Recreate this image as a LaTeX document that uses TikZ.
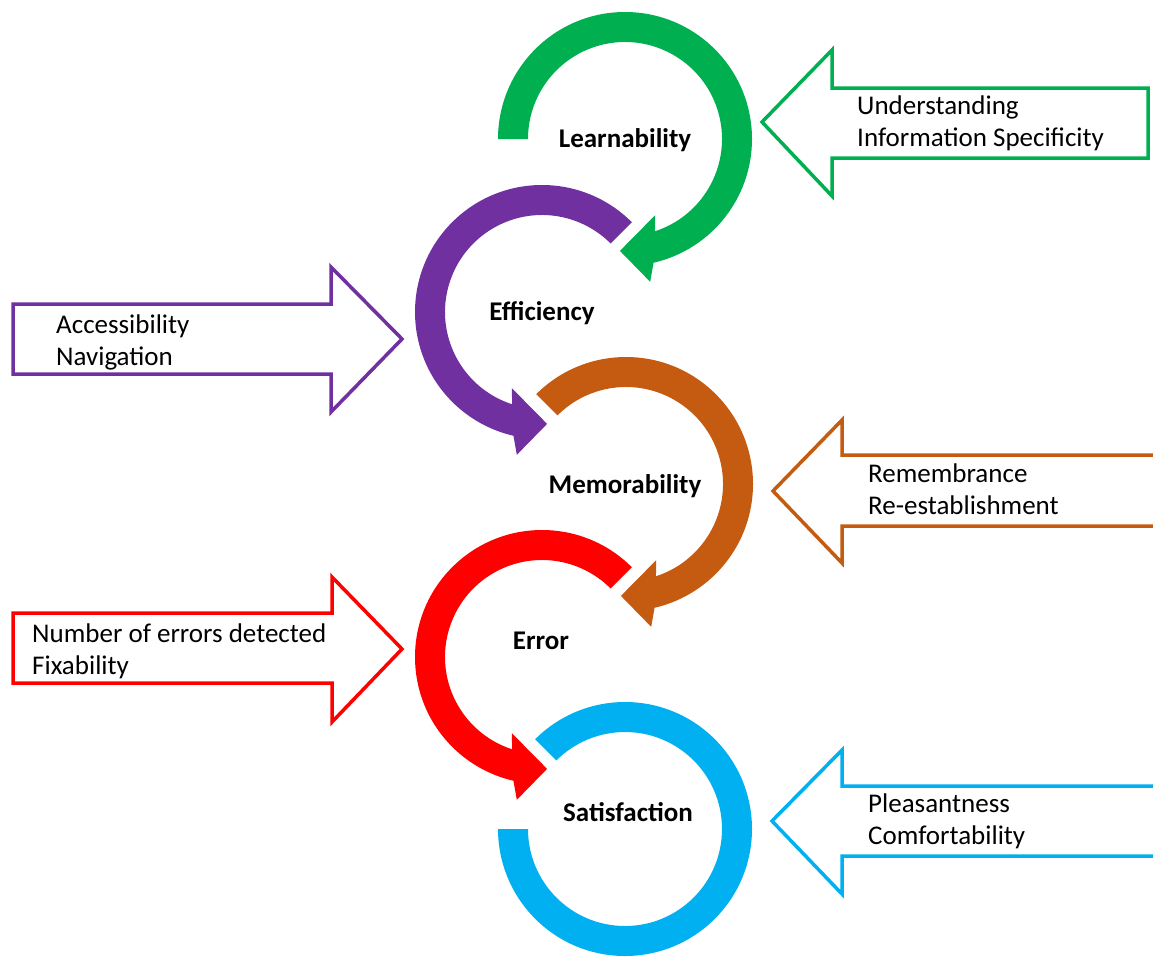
\documentclass[tikz,border=0pt]{standalone}
\usepackage{fontspec}
\setmainfont{Carlito}
\definecolor{cgreen}{HTML}{00B050}
\definecolor{cpurple}{HTML}{7030A0}
\definecolor{corange}{HTML}{C55A11}
\definecolor{cred}{HTML}{FF0000}
\definecolor{cblue}{HTML}{00B0F0}
\tikzset{
  lbl/.style={font=\bfseries\fontsize{27}{33}\selectfont, inner sep=0pt, anchor=base},
  btxt/.style={font=\fontsize{27}{32}\selectfont, inner sep=0pt, anchor=base west},
  blockarrow/.style={line width=3.5pt, fill=white, line join=miter},
}
\newcommand{\cwarrow}[2]{% start angle, colour ; clockwise ring arrow
  \fill[#2] (#1:127) arc[start angle=#1, end angle=-77, radius=127]
    -- (-80:145) -- (-92.6:112) -- (-68.5:82) -- (-72:97)
    arc[start angle=-72, end angle=#1, radius=97] -- cycle;}
\newcommand{\ccwarrow}[2]{% start angle, colour ; counter-clockwise ring arrow
  \fill[#2] (#1:127) arc[start angle=#1, end angle=257, radius=127]
    -- (260:145) -- (272.6:112) -- (248.5:82) -- (252:97)
    arc[start angle=252, end angle=#1, radius=97] -- cycle;}
\begin{document}
\begin{tikzpicture}[x=1pt,y=1pt]
\useasboundingbox (0,0) rectangle (1153,-956);
\fill[white] (0,0) rectangle (1153,-956);

% ring arrows
\begin{scope}[shift={(625,-139)}]\cwarrow{180}{cgreen}\end{scope}
\begin{scope}[shift={(542,-312)}]\ccwarrow{45}{cpurple}\end{scope}
\begin{scope}[shift={(626,-484)}]\cwarrow{135}{corange}\end{scope}
\begin{scope}[shift={(542,-657)}]\ccwarrow{45}{cred}\end{scope}
\begin{scope}[shift={(625,-829)}]
  \fill[cblue] (135:127) arc[start angle=135, end angle=-180, radius=127]
    -- (180:97) arc[start angle=-180, end angle=135, radius=97] -- cycle;
\end{scope}

% ring labels
\node[lbl] (learn) at (625,-147) {Learnability};
\node[lbl] (eff) at (542,-320) {Efficiency};
\node[lbl] (mem) at (625,-493) {Memorability};
\node[lbl] (err) at (541,-649) {Error};
\node[lbl] (sat) at (628,-821) {Satisfaction};

% block arrows
\draw[blockarrow, draw=cgreen] (762,-122) -- (832,-50) -- (832,-88) -- (1148,-88)
  -- (1148,-158) -- (832,-158) -- (832,-196) -- cycle;
\draw[blockarrow, draw=cpurple] (13,-304) -- (331,-304) -- (331,-267) -- (402,-339)
  -- (331,-412) -- (331,-374) -- (13,-374) -- cycle;
\draw[blockarrow, draw=corange] (1165,-455) -- (842,-455) -- (842,-420) -- (773,-491)
  -- (842,-563) -- (842,-526) -- (1165,-526);
\draw[blockarrow, draw=cred] (13,-613) -- (332,-613) -- (332,-577) -- (402,-649)
  -- (332,-722) -- (332,-683) -- (13,-683) -- cycle;
\draw[blockarrow, draw=cblue] (1165,-786) -- (842,-786) -- (842,-750) -- (772,-821)
  -- (842,-894) -- (842,-856) -- (1165,-856);

% block texts
\node[btxt] (t1) at (857,-114) {\begin{tabular}[t]{@{}l@{}}Understanding\\Information Specificity\end{tabular}};
\node[btxt] (t2) at (56,-333) {\begin{tabular}[t]{@{}l@{}}Accessibility\\Navigation\end{tabular}};
\node[btxt] (t3) at (868,-482) {\begin{tabular}[t]{@{}l@{}}Remembrance\\Re-establishment\end{tabular}};
\node[btxt] (t4) at (32,-642) {\begin{tabular}[t]{@{}l@{}}Number of errors detected\\Fixability\end{tabular}};
\node[btxt] (t5) at (868,-812) {\begin{tabular}[t]{@{}l@{}}Pleasantness\\Comfortability\end{tabular}};
\end{tikzpicture}
\end{document}
